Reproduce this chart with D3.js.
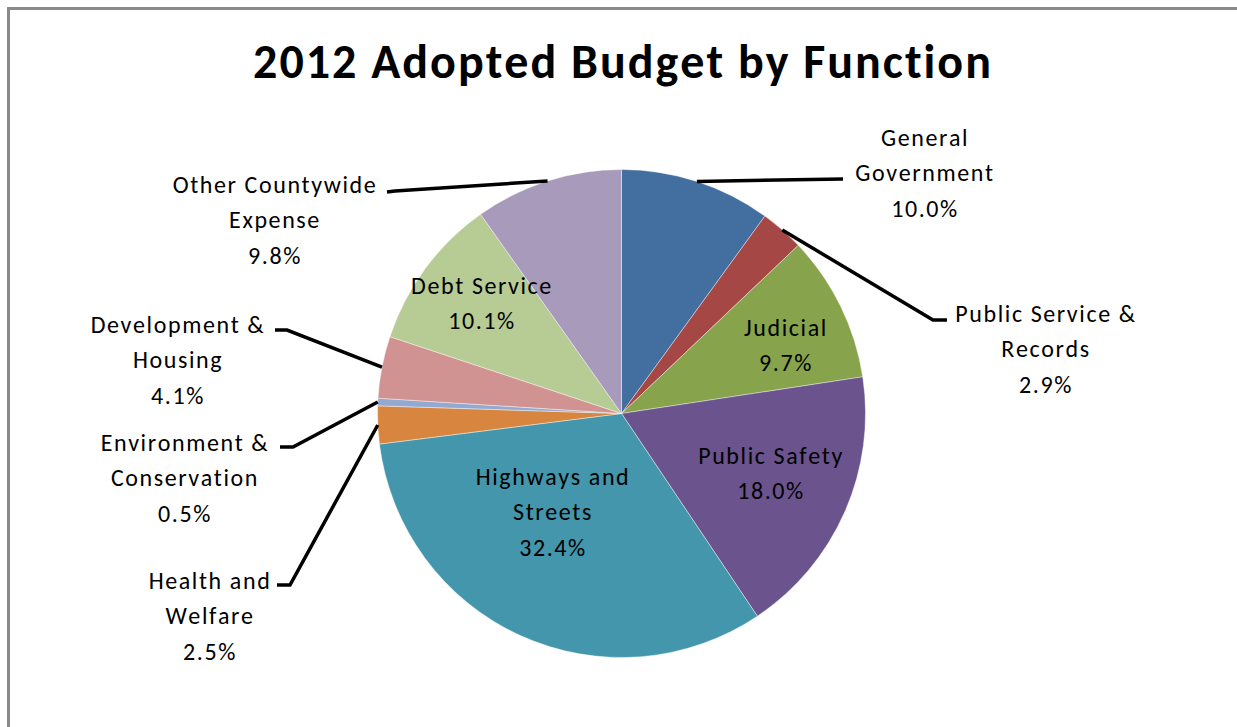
<!DOCTYPE html>
<html>
<head>
<meta charset="utf-8">
<script src="https://cdn.jsdelivr.net/npm/d3@7"></script>
<style>
  html, body { margin: 0; padding: 0; background: #fff; }
  svg { display: block; }
  text { font-family: Carlito, Calibri, "Open Sans", "Liberation Sans", sans-serif; fill: #000;
         font-variant-ligatures: none; font-kerning: none; }
</style>
</head>
<body>
<svg id="chart" width="1237" height="727"></svg>
<script>
// Budget shares by function, in percent, clockwise from 12 o'clock
const categories = [
  "General Government", "Public Service & Records", "Judicial", "Public Safety",
  "Highways and Streets", "Health and Welfare", "Environment & Conservation",
  "Development & Housing", "Debt Service", "Other Countywide Expense"
];
const values = [10.0, 2.9, 9.7, 18.0, 32.4, 2.5, 0.5, 4.1, 10.1, 9.8];
// How each label is broken into lines
const labelLines = [
  ["General", "Government"], ["Public Service &", "Records"], ["Judicial"], ["Public Safety"],
  ["Highways and", "Streets"], ["Health and", "Welfare"], ["Environment &", "Conservation"],
  ["Development &", "Housing"], ["Debt Service"], ["Other Countywide", "Expense"]
];
const colors = [
  "#426f9f", "#a54745", "#87a44c", "#6b548e", "#4396ac",
  "#d8863f", "#93a9d1", "#d09391", "#b7cb95", "#a89aba"
];

const svg = d3.select("#chart");
const W = 1237, H = 727;
const cx = 621.5, cy = 413.5, R = 244;

// chart area frame
svg.append("path")
  .attr("d", `M8.5,${H + 5} V8.5 H${W + 5}`)
  .attr("fill", "none").attr("stroke", "#8a8a8a").attr("stroke-width", 3);

svg.append("text")
  .attr("x", 623).attr("y", 78)
  .attr("text-anchor", "middle")
  .style("font-weight", "bold").style("font-size", "48px")
  .style("letter-spacing", "2px")
  .text("2012 Adopted Budget by Function");

const data = categories.map((c, i) => ({ name: c, value: values[i], lines: labelLines[i], color: colors[i] }));

const pie = d3.pie().value(d => d.value).sort(null);
const arcs = pie(data);
const arc = d3.arc().innerRadius(0).outerRadius(R);

const g = svg.append("g").attr("transform", `translate(${cx},${cy})`);
g.selectAll("path.slice").data(arcs).enter().append("path")
  .attr("class", "slice")
  .attr("d", arc)
  .attr("fill", d => d.data.color)
  .attr("stroke", "#ffffff").attr("stroke-opacity", 0.5).attr("stroke-width", 0.8);

// Label layout: x = centre of the text block, y = first baseline;
// leader = bend points of the leader line, starting at the label side
const labelLayout = {
  "General Government":        { x: 925, y: 146, leader: [[843, 179]] },
  "Public Service & Records":  { x: 1046, y: 322, leader: [[947, 320], [933, 320]] },
  "Judicial":                  { x: 786, y: 336 },
  "Public Safety":             { x: 771, y: 464 },
  "Highways and Streets":      { x: 553, y: 485 },
  "Health and Welfare":        { x: 210, y: 589, leader: [[277, 585], [290, 585]] },
  "Environment & Conservation":{ x: 185, y: 451, leader: [[280, 447], [293, 447]] },
  "Development & Housing":     { x: 178, y: 333, leader: [[275, 330], [287, 330]] },
  "Debt Service":              { x: 482, y: 294 },
  "Other Countywide Expense":  { x: 275, y: 193, leader: [[387, 192], [395, 191]] }
};
const lineH = 35.3;

// leader lines, drawn from the label to the middle of the slice rim
const line = d3.line();
arcs.forEach(a => {
  const L = labelLayout[a.data.name];
  if (!L.leader) return;
  const mid = (a.startAngle + a.endAngle) / 2;
  const rim = [cx + R * Math.sin(mid), cy - R * Math.cos(mid)];
  svg.append("path")
    .attr("d", line([...L.leader, rim]))
    .attr("fill", "none").attr("stroke", "#000").attr("stroke-width", 3.5);
});

arcs.forEach(a => {
  const L = labelLayout[a.data.name];
  const rows = [...a.data.lines, d3.format(".1f")(a.data.value) + "%"];
  const t = svg.append("text")
    .attr("text-anchor", "middle")
    .style("font-size", "24px")
    .style("letter-spacing", "1.6px");
  rows.forEach((r, i) => {
    t.append("tspan")
      .attr("x", L.x)
      .attr("y", L.y + i * lineH)
      .text(r);
  });
});
</script>
</body>
</html>
